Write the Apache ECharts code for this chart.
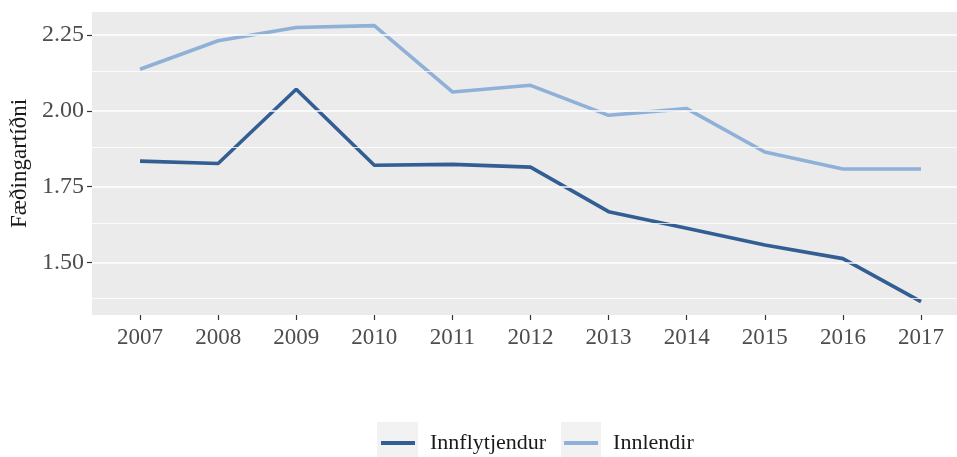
<!DOCTYPE html>
<html>
<head>
<meta charset="utf-8">
<script src="https://cdn.jsdelivr.net/npm/echarts@6/dist/echarts.min.js"></script>
<style>html,body{margin:0;padding:0;background:#fff}#c{width:957px;height:457px}</style>
</head>
<body>
<div id="c"></div>
<script>
var years = [2007, 2008, 2009, 2010, 2011, 2012, 2013, 2014, 2015, 2016, 2017];
var innflytjendur = [1.834, 1.826, 2.071, 1.820, 1.823, 1.814, 1.667, 1.612, 1.557, 1.512, 1.370];
var innlendir = [2.137, 2.231, 2.275, 2.281, 2.062, 2.084, 1.985, 2.007, 1.864, 1.808, 1.808];
var yTicks = [1.50, 1.75, 2.00, 2.25];
var yMinor = [1.375, 1.625, 1.875, 2.125];
var seriesNames = ['Innflytjendur', 'Innlendir'];

var FONT = 'Liberation Serif';
function pairs(vals) { return years.map(function (y, i) { return [y, vals[i]]; }); }

var chart = echarts.init(document.getElementById('c'), null, {renderer: 'canvas'});
chart.setOption({
  animation: false,
  backgroundColor: '#ffffff',
  grid: {left: 92, right: 0, top: 12, bottom: 142, show: true, backgroundColor: '#ebebeb', borderWidth: 0},
  xAxis: {
    type: 'value', min: 2006.385, max: 2017.461,
    axisLine: {show: false},
    splitLine: {show: false},
    axisTick: {show: true, customValues: years, length: 5, lineStyle: {color: '#333333', width: 1.2}},
    axisLabel: {customValues: years, margin: 11, color: '#4d4d4d', fontFamily: FONT, fontSize: 23,
      formatter: function (v) { return String(Math.round(v)); }}
  },
  yAxis: {
    type: 'value', min: 1.326, max: 2.326,
    name: 'Fæðingartíðni', nameLocation: 'middle', nameGap: 61,
    nameTextStyle: {color: '#1a1a1a', fontFamily: FONT, fontSize: 23},
    axisLine: {show: false},
    splitLine: {show: false},
    axisTick: {show: true, customValues: yTicks, length: 5, lineStyle: {color: '#333333', width: 1.2}},
    axisLabel: {customValues: yTicks, margin: 8, color: '#4d4d4d', fontFamily: FONT, fontSize: 24,
      formatter: function (v) { return v.toFixed(2); }}
  },
  legend: {
    data: seriesNames,
    left: 376, top: 427,
    itemWidth: 34, itemHeight: 4, itemGap: 18,
    icon: 'rect',
    textStyle: {color: '#1a1a1a', fontFamily: FONT, fontSize: 22, padding: [0, 0, 0, 10]}
  },
  graphic: [
    {type: 'rect', z: -10, shape: {x: 377, y: 422, width: 41, height: 35}, style: {fill: '#f2f2f2'}},
    {type: 'rect', z: -10, shape: {x: 561, y: 422, width: 40, height: 35}, style: {fill: '#f2f2f2'}}
  ],
  series: [
    {
      type: 'line', name: '_grid', data: [], z: 1, silent: true,
      markLine: {
        silent: true, symbol: ['none', 'none'], animation: false,
        label: {show: false},
        data: yTicks.map(function (v) { return {yAxis: v, lineStyle: {color: '#ffffff', width: 1.6, type: 'solid'}}; })
          .concat(yMinor.map(function (v) { return {yAxis: v, lineStyle: {color: '#ffffff', width: 0.8, type: 'solid'}}; }))
      }
    },
    {
      type: 'line', name: seriesNames[0], data: pairs(innflytjendur), z: 3,
      symbol: 'none', lineStyle: {color: '#335e93', width: 3.6}, itemStyle: {color: '#335e93'}
    },
    {
      type: 'line', name: seriesNames[1], data: pairs(innlendir), z: 3,
      symbol: 'none', lineStyle: {color: '#8fb0d7', width: 3.6}, itemStyle: {color: '#8fb0d7'}
    }
  ]
});
</script>
</body>
</html>
